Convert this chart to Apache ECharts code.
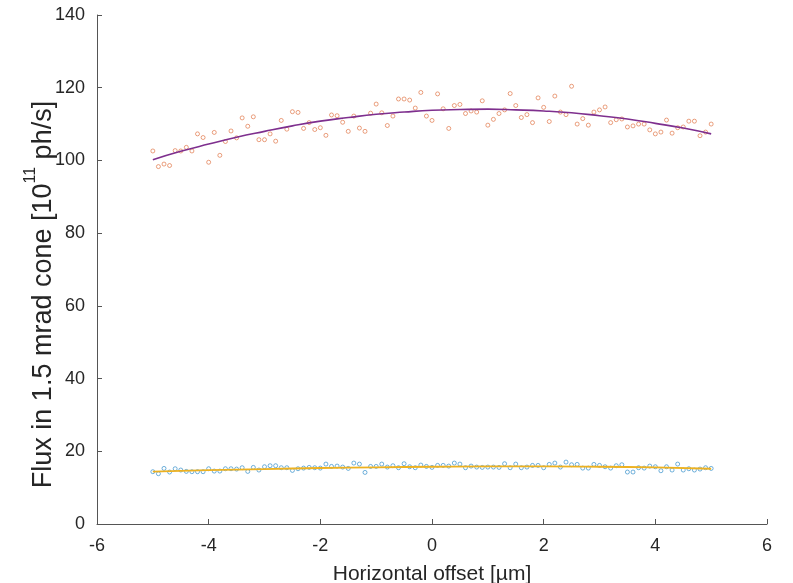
<!DOCTYPE html>
<html>
<head>
<meta charset="utf-8">
<script src="https://cdn.jsdelivr.net/npm/echarts@6/dist/echarts.min.js"></script>
<style>
  html, body { margin: 0; padding: 0; background: #ffffff; }
  #chart { width: 793px; height: 583px; }
</style>
</head>
<body>
<div id="chart"></div>
<script>
// Horizontal offset positions of the scan [µm]
const offsets = [
  -5.0, -4.9, -4.8, -4.7, -4.6, -4.5, -4.4, -4.3, -4.2, -4.1,
  -4.0, -3.9, -3.8, -3.7, -3.6, -3.5, -3.4, -3.3, -3.2, -3.1,
  -3.0, -2.9, -2.8, -2.7, -2.6, -2.5, -2.4, -2.3, -2.2, -2.1,
  -2.0, -1.9, -1.8, -1.7, -1.6, -1.5, -1.4, -1.3, -1.2, -1.1,
  -1.0, -0.9, -0.8, -0.7, -0.6, -0.5, -0.4, -0.3, -0.2, -0.1,
   0.0,  0.1,  0.2,  0.3,  0.4,  0.5,  0.6,  0.7,  0.8,  0.9,
   1.0,  1.1,  1.2,  1.3,  1.4,  1.5,  1.6,  1.7,  1.8,  1.9,
   2.0,  2.1,  2.2,  2.3,  2.4,  2.5,  2.6,  2.7,  2.8,  2.9,
   3.0,  3.1,  3.2,  3.3,  3.4,  3.5,  3.6,  3.7,  3.8,  3.9,
   4.0,  4.1,  4.2,  4.3,  4.4,  4.5,  4.6,  4.7,  4.8,  4.9,
   5.0
];

// Measured flux, upper set [1e11 ph/s]
const fluxUpper = [
  102.6,  98.3,  99.0,  98.6, 102.7, 102.6, 103.6, 102.6, 107.3, 106.3,
   99.5, 107.7, 101.4, 105.2, 108.1, 106.2, 111.7, 109.4, 112.0, 105.7,
  105.7, 107.3, 105.3, 111.0, 108.6, 113.4, 113.2, 108.8, 110.4, 108.5,
  109.0, 106.9, 112.5, 112.3, 110.5, 108.0, 112.2, 108.9, 108.0, 113.0,
  115.5, 113.1, 109.6, 112.2, 116.9, 116.9, 116.6, 114.4, 118.7, 112.2,
  111.0, 118.3, 114.2, 108.8, 115.1, 115.4, 112.9, 113.6, 113.3, 116.4,
  109.7, 111.3, 112.9, 113.9, 118.4, 115.1, 111.8, 112.6, 110.4, 117.2,
  114.6, 110.7, 117.7, 113.3, 112.6, 120.4, 110.0, 111.5, 109.7, 113.3,
  113.9, 114.7, 110.4, 111.2, 111.4, 109.2, 109.5, 110.0, 110.0, 108.4,
  107.3, 107.8, 111.1, 107.5, 109.0, 109.2, 110.8, 110.8, 106.8, 107.8,
  110.0
];

// Measured flux, lower set [1e11 ph/s]
const fluxLower = [
  14.38, 13.83, 15.29, 14.29, 15.20, 14.84, 14.47, 14.38, 14.38, 14.38,
  15.20, 14.56, 14.56, 15.20, 15.20, 15.11, 15.48, 14.47, 15.57, 14.84,
  15.75, 16.03, 16.03, 15.48, 15.48, 14.74, 15.20, 15.38, 15.57, 15.48,
  15.38, 16.48, 15.84, 15.93, 15.66, 15.29, 16.76, 16.48, 14.19, 15.84,
  15.84, 16.48, 15.66, 16.03, 15.48, 16.58, 15.75, 15.48, 16.21, 15.84,
  15.57, 16.12, 16.12, 15.93, 16.76, 16.48, 15.48, 15.93, 15.66, 15.57,
  15.66, 15.66, 15.57, 16.58, 15.48, 16.48, 15.48, 15.66, 16.12, 16.12,
  15.48, 16.39, 16.76, 15.66, 17.03, 16.30, 16.39, 15.38, 15.38, 16.39,
  16.12, 15.75, 15.38, 16.03, 16.30, 14.29, 14.29, 15.48, 15.38, 15.93,
  15.75, 14.65, 15.75, 14.84, 16.48, 14.84, 15.20, 14.84, 15.11, 15.48,
  15.29
];

// Fitted curve through the upper set
const fitUpperOffsets = [-5, -4.5, -4, -3.5, -3, -2.5, -2, -1.5, -1, -0.5, 0,
                         0.5, 1, 1.5, 2, 2.5, 3, 3.5, 4, 4.5, 5];
const fitUpper = [100.2, 102.5, 104.5, 106.4, 108.0, 109.5, 110.8, 111.8, 112.7, 113.3, 113.8,
                  114.0, 114.1, 113.9, 113.6, 113.1, 112.3, 111.4, 110.2, 108.9, 107.3];

// Fitted curve through the lower set
const fitLowerOffsets = [-5, -4, -3, -2, -1, 0, 1, 2, 3, 4, 5];
const fitLower = [14.4, 14.8, 15.1, 15.4, 15.6, 15.75, 15.85, 15.85, 15.75, 15.55, 15.2];

const xTicks = [-6, -4, -2, 0, 2, 4, 6];
const yTicks = [0, 20, 40, 60, 80, 100, 120, 140];

const pair = (xs, ys) => xs.map((x, i) => [x, ys[i]]);

const axisColor = '#555555';
const textColor = '#262626';
const fontFamily = '"Liberation Sans", Arial, Helvetica, sans-serif';

const chart = echarts.init(document.getElementById('chart'), null, { renderer: 'canvas' });

chart.setOption({
  animation: false,
  backgroundColor: '#ffffff',
  grid: { left: 97, right: 26, top: 15, bottom: 59, containLabel: false, outerBoundsMode: 'none' },
  xAxis: {
    type: 'value',
    min: xTicks[0],
    max: xTicks[xTicks.length - 1],
    interval: xTicks[1] - xTicks[0],
    name: 'Horizontal offset [µm]',
    nameLocation: 'middle',
    nameGap: 40,
    nameMoveOverlap: false,
    nameTextStyle: { fontFamily, fontSize: 21, color: textColor },
    axisLine: { show: true, onZero: false, lineStyle: { color: axisColor, width: 1 } },
    axisTick: { show: true, inside: true, length: 5, lineStyle: { color: axisColor } },
    axisLabel: { margin: 13, fontFamily, fontSize: 18, color: textColor },
    splitLine: { show: false }
  },
  yAxis: {
    type: 'value',
    min: yTicks[0],
    max: yTicks[yTicks.length - 1],
    interval: yTicks[1] - yTicks[0],
    name: '{a|Flux in 1.5 mrad cone [10}{s|11}{a| ph/s]}',
    nameLocation: 'middle',
    nameRotate: 90,
    nameGap: 40,
    nameMoveOverlap: false,
    nameTextStyle: {
      fontFamily,
      color: textColor,
      padding: [0, 50, 0, 0],
      rich: {
        a: { fontFamily, fontSize: 27, color: textColor, lineHeight: 34, verticalAlign: 'bottom' },
        s: { fontFamily, fontSize: 16, color: textColor, lineHeight: 16, verticalAlign: 'top' }
      }
    },
    axisLine: { show: true, onZero: false, lineStyle: { color: axisColor, width: 1 } },
    axisTick: { show: true, inside: true, length: 5, lineStyle: { color: axisColor } },
    axisLabel: { margin: 12, fontFamily, fontSize: 18, color: textColor },
    splitLine: { show: false }
  },
  series: [
    {
      name: 'upper',
      type: 'scatter',
      data: pair(offsets, fluxUpper),
      symbol: 'circle',
      symbolSize: 4,
      itemStyle: { color: 'rgba(255,255,255,0)', borderColor: '#D95319', borderWidth: 1, opacity: 0.55 }
    },
    {
      name: 'upper fit',
      type: 'line',
      data: pair(fitUpperOffsets, fitUpper),
      smooth: true,
      showSymbol: false,
      lineStyle: { color: '#7E2F8E', width: 1.6 }
    },
    {
      name: 'lower',
      type: 'scatter',
      data: pair(offsets, fluxLower),
      symbol: 'circle',
      symbolSize: 4,
      itemStyle: { color: 'rgba(255,255,255,0)', borderColor: '#0072BD', borderWidth: 1, opacity: 0.55 }
    },
    {
      name: 'lower fit',
      type: 'line',
      data: pair(fitLowerOffsets, fitLower),
      smooth: true,
      showSymbol: false,
      lineStyle: { color: '#EDB120', width: 1.8 }
    }
  ]
});
</script>
</body>
</html>
